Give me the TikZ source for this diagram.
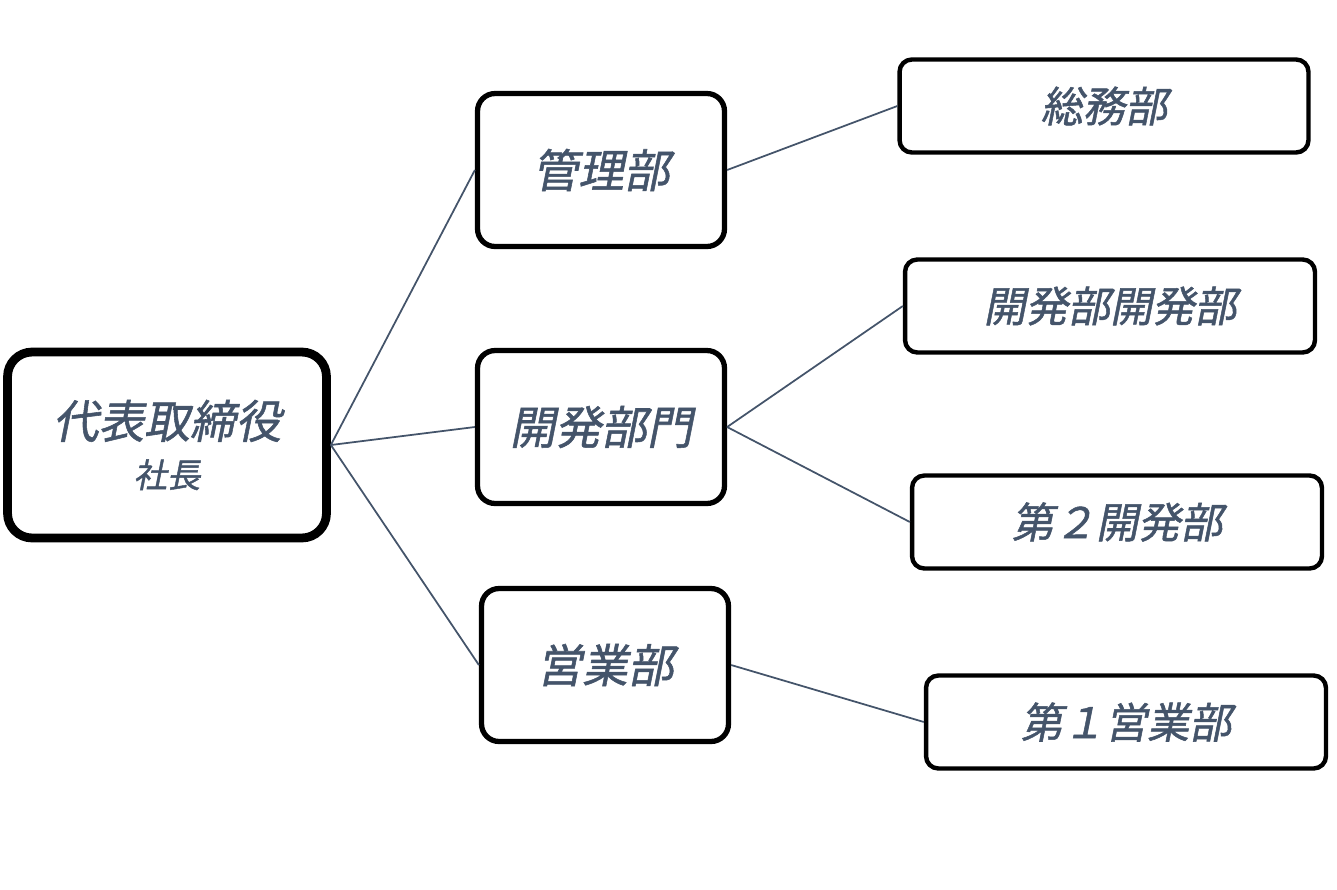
\documentclass[tikz,border=0pt]{standalone}
\usepackage{fontspec}
\newfontfamily\jpfont[FakeSlant=0.2,FakeBold=1.2]{Noto Sans CJK JP}
\definecolor{slatetext}{RGB}{68,84,106}
\usetikzlibrary{positioning}
\tikzset{
  orgbox/.style={draw=black, rounded corners=10pt, line width=3pt, text=slatetext,
    font=\jpfont\fontsize{26}{30}\selectfont, align=center, inner sep=0pt},
  topbox/.style={orgbox, line width=5pt, rounded corners=14pt},
  subbox/.style={orgbox, line width=2.5pt, rounded corners=7pt,
    font=\jpfont\fontsize{24}{28}\selectfont},
  link/.style={draw=slatetext, line width=1pt}
}
\begin{document}
\begin{tikzpicture}[x=0.02cm, y=-0.02cm]
\useasboundingbox (0,0) rectangle (1337,889);

% top
\node[topbox, minimum width=6.38cm, minimum height=3.72cm] (ceo) at (167,445)
  {代表取締役\\[-2pt]{\fontsize{19}{22}\selectfont 社長}};

% middle level
\node[orgbox, minimum width=4.94cm, minimum height=3.06cm] (kanri) at (601,170) {管理部};
\node[orgbox, minimum width=4.94cm, minimum height=3.06cm] (kaihatsu) at (601,427) {開発部門};
\node[orgbox, minimum width=4.94cm, minimum height=3.06cm] (eigyo) at (605,665) {営業部};

% right level
\node[subbox, minimum width=8.18cm, minimum height=1.86cm] (somu) at (1104,106) {総務部};
\node[subbox, minimum width=8.2cm, minimum height=1.86cm] (dev1) at (1110,306) {開発部開発部};
\node[subbox, minimum width=8.2cm, minimum height=1.86cm] (dev2) at (1117,522) {第２開発部};
\node[subbox, minimum width=8cm, minimum height=1.86cm] (sales1) at (1126,722) {第１営業部};

% connectors
\draw[link] (ceo.east) -- (kanri.west);
\draw[link] (ceo.east) -- (kaihatsu.west);
\draw[link] (ceo.east) -- (eigyo.west);
\draw[link] (kanri.east) -- (somu.west);
\draw[link] (kaihatsu.east) -- (dev1.west);
\draw[link] (kaihatsu.east) -- (dev2.west);
\draw[link] (eigyo.east) -- (sales1.west);
\end{tikzpicture}
\end{document}
